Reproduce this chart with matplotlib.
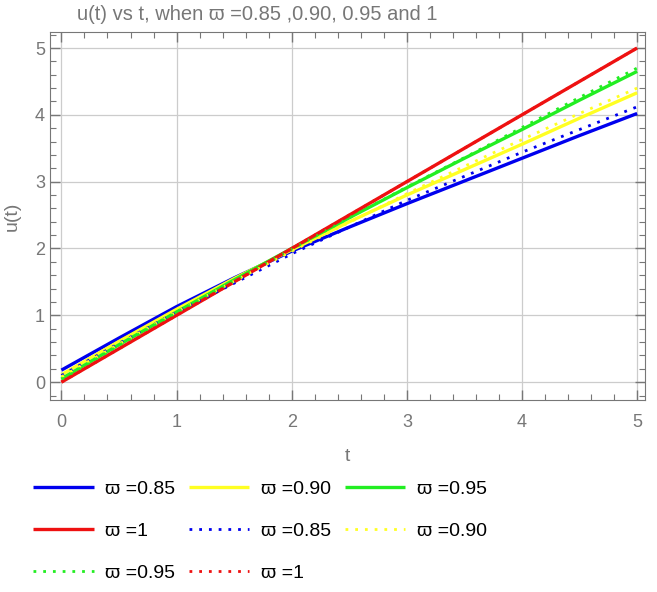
import matplotlib.pyplot as plt
from matplotlib.ticker import MultipleLocator

t = [0, 0.5, 1, 1.5, 2, 2.5, 3, 3.5, 4, 4.5, 5]

# solid curves
u_085 = [0.18, 0.66, 1.13, 1.56, 1.96, 2.32, 2.67, 3.01, 3.35, 3.69, 4.02]
u_090 = [0.11, 0.61, 1.09, 1.55, 1.98, 2.40, 2.80, 3.18, 3.56, 3.95, 4.33]
u_095 = [0.05, 0.56, 1.05, 1.53, 2.00, 2.46, 2.91, 3.35, 3.78, 4.22, 4.65]
u_100 = [0.0, 0.5, 1.0, 1.5, 2.0, 2.5, 3.0, 3.5, 4.0, 4.5, 5.0]

# dotted curves
v_085 = [0.10, 0.58, 1.05, 1.48, 1.92, 2.32, 2.72, 3.08, 3.44, 3.78, 4.12]
v_090 = [0.08, 0.57, 1.05, 1.51, 1.96, 2.39, 2.82, 3.23, 3.63, 4.02, 4.40]
v_095 = [0.04, 0.55, 1.04, 1.52, 1.99, 2.46, 2.92, 3.36, 3.81, 4.26, 4.70]
v_100 = [0.0, 0.5, 1.0, 1.5, 2.0, 2.5, 3.0, 3.5, 4.0, 4.5, 5.0]

labels = ["\u03d6 =0.85", "\u03d6 =0.90", "\u03d6 =0.95", "\u03d6 =1"]
colors = ["#0000ee", "#ffff22", "#22ee22", "#ee1111"]

plt.rcParams["font.family"] = ["Liberation Sans", "DejaVu Sans"]
gray = "#777777"

fig = plt.figure(figsize=(6.57, 5.92), dpi=100)
ax = fig.add_axes([0.076, 0.324, 0.906, 0.622])

solid = []
for ys, c, lab in zip([u_085, u_090, u_095, u_100], colors, labels):
    (h,) = ax.plot(t, ys, color=c, lw=2.4, label=lab, solid_capstyle="butt")
    solid.append(h)

dotted = []
for ys, c, lab in zip([v_085, v_090, v_095, v_100], colors, labels):
    (h,) = ax.plot(t, ys, color=c, lw=2.0, ls=(0, (1, 2.5)), label=lab)
    dotted.append(h)

ax.set_xlim(-0.1, 5.07)
ax.set_ylim(-0.27, 5.24)
ax.xaxis.set_major_locator(MultipleLocator(1))
ax.xaxis.set_minor_locator(MultipleLocator(0.2))
ax.yaxis.set_major_locator(MultipleLocator(1))
ax.yaxis.set_minor_locator(MultipleLocator(0.2))
ax.tick_params(which="both", direction="in", top=True, right=True,
               colors=gray, labelcolor=gray, labelsize=13)
ax.tick_params(which="major", length=7, width=1)
ax.tick_params(which="minor", length=4, width=0.8)
ax.tick_params(axis="x", pad=10)
for s in ax.spines.values():
    s.set_color(gray)
ax.grid(True, which="major", color="#cccccc", lw=0.9)
ax.set_axisbelow(True)

ax.set_xlabel("t", color=gray, fontsize=14, labelpad=12)
ax.set_ylabel("u(t)", color=gray, fontsize=14, labelpad=10)
fig.text(0.391, 0.992, "u(t) vs t, when \u03d6 =0.85 ,0.90, 0.95 and 1",
         color=gray, fontsize=14.5, ha="center", va="top")

# legend in row order, matplotlib fills column by column
items = [solid[0], solid[3], dotted[2],
         solid[1], dotted[0], dotted[3],
         solid[2], dotted[1]]
fig.legend(items, [h.get_label() for h in items], ncol=3,
           loc="upper left", bbox_to_anchor=(0.03, 0.212),
           frameon=False, fontsize=14, handlelength=3.1,
           columnspacing=0.7, labelspacing=1.25, handletextpad=0.6,
           borderpad=0.2)

fig.savefig("out.png", dpi=100)
